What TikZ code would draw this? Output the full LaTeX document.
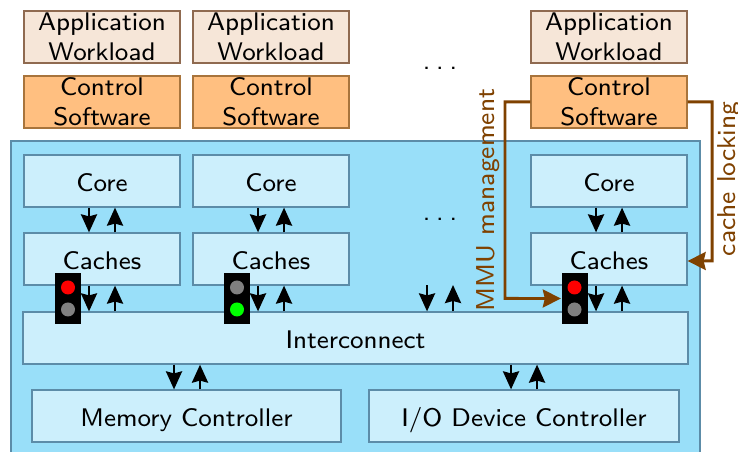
\documentclass[tikz,border=0pt]{standalone}
\usepackage{tikz}
\usepackage{xcolor}
\usetikzlibrary{arrows.meta}
\renewcommand{\familydefault}{\sfdefault}
\definecolor{appfill}{HTML}{F6E6D8}
\definecolor{appline}{HTML}{8F6A50}
\definecolor{ctrlfill}{HTML}{FFBF80}
\definecolor{ctrlline}{HTML}{A8743C}
\definecolor{socfill}{HTML}{99DFF9}
\definecolor{partfill}{HTML}{CCEFFC}
\definecolor{partline}{HTML}{5C8CA8}
\definecolor{lockbrown}{HTML}{7F4100}
\tikzset{
  appbox/.style={draw=appline,fill=appfill,line width=0.35pt,minimum width=1.56cm,minimum height=0.52cm,inner sep=0pt,align=center,font=\fontsize{7.25}{8.4}\selectfont},
  ctrlbox/.style={appbox,draw=ctrlline,fill=ctrlfill},
  partbox/.style={appbox,draw=partline,fill=partfill,text height=7.4pt,text depth=1.5pt},
  lampbox/.style={fill=black,minimum width=0.26cm,minimum height=0.51cm,inner sep=0pt},
  lamp/.style={circle,minimum size=0.14cm,inner sep=0pt},
  bus/.style={-{Stealth[length=0.18cm,width=0.16cm,inset=0.02cm]},line width=0.75pt,black},
  ctrlarrow/.style={-{Stealth[length=0.18cm,width=0.18cm,inset=0.02cm]},line width=0.85pt,lockbrown},
  ctrltext/.style={text=lockbrown,rotate=90,inner sep=0pt,font=\fontsize{7.35}{8.4}\selectfont},
  dotstext/.style={inner sep=0pt,font=\fontsize{7.25}{8.4}\selectfont}
}
\begin{document}
\begin{tikzpicture}[scale=0.1]
\useasboundingbox (0,0) rectangle (73.8,-45.2);
\begin{scope}
\clip (0,0) rectangle (73.8,-45.2);
\node [draw=partline,fill=socfill,line width=0.35pt,minimum width=6.89cm,minimum height=3.31cm,inner sep=0pt] (soc) at (35.55,-30.65) {};
\end{scope}
% software on top
\node [appbox] (app1) at (10.2,-3.7) {Application\\Workload};
\node [appbox] (app2) at (27.1,-3.7) {Application\\Workload};
\node [appbox] (app3) at (60.9,-3.7) {Application\\Workload};
\node [ctrlbox] (ctrl1) at (10.2,-10.2) {Control\\Software};
\node [ctrlbox] (ctrl2) at (27.1,-10.2) {Control\\Software};
\node [ctrlbox] (ctrl3) at (60.9,-10.2) {Control\\Software};
\node [dotstext] (dotsa) at (44,-6.8) {.\kern 0.23em.\kern 0.23em.};
% cores and caches
\node [partbox] (core1) at (10.2,-18.1) {Core};
\node [partbox] (core2) at (27.1,-18.1) {Core};
\node [partbox] (core3) at (60.9,-18.1) {Core};
\node [dotstext] (dotsb) at (44,-21.9) {.\kern 0.23em.\kern 0.23em.};
\node [partbox] (cache1) at (10.2,-25.9) {Caches};
\node [partbox] (cache2) at (27.1,-25.9) {Caches};
\node [partbox] (cache3) at (60.9,-25.9) {Caches};
\node [partbox,minimum width=6.65cm] (inter) at (35.55,-33.8) {Interconnect};
\node [partbox,minimum width=3.09cm] (memctl) at (18.65,-41.6) {Memory Controller};
\node [partbox,minimum width=3.1cm] (ioctl) at (52.4,-41.6) {I/O Device Controller};
% buses
\draw [bus] ([xshift=-1.3cm]core1.south) -- ([xshift=-1.3cm]cache1.north);
\draw [bus] ([xshift=1.3cm]cache1.north) -- ([xshift=1.3cm]core1.south);
\draw [bus] ([xshift=-1.3cm]core2.south) -- ([xshift=-1.3cm]cache2.north);
\draw [bus] ([xshift=1.3cm]cache2.north) -- ([xshift=1.3cm]core2.south);
\draw [bus] ([xshift=-1.3cm]core3.south) -- ([xshift=-1.3cm]cache3.north);
\draw [bus] ([xshift=1.3cm]cache3.north) -- ([xshift=1.3cm]core3.south);
\draw [bus] ([xshift=-1.3cm]cache1.south) -- ([xshift=-1.3cm]cache1.south |- inter.north);
\draw [bus] ([xshift=1.3cm]cache1.south |- inter.north) -- ([xshift=1.3cm]cache1.south);
\draw [bus] ([xshift=-1.3cm]cache2.south) -- ([xshift=-1.3cm]cache2.south |- inter.north);
\draw [bus] ([xshift=1.3cm]cache2.south |- inter.north) -- ([xshift=1.3cm]cache2.south);
\draw [bus] ([xshift=-1.3cm]cache3.south) -- ([xshift=-1.3cm]cache3.south |- inter.north);
\draw [bus] ([xshift=1.3cm]cache3.south |- inter.north) -- ([xshift=1.3cm]cache3.south);
\coordinate (freea) at (42.7,-28.5);
\coordinate (freeb) at (45.3,-28.5);
\draw [bus] (freea) -- (freea |- inter.north);
\draw [bus] (freeb |- inter.north) -- (freeb);
\draw [bus] ([xshift=-1.25cm]memctl.north |- inter.south) -- ([xshift=-1.25cm]memctl.north);
\draw [bus] ([xshift=1.35cm]memctl.north) -- ([xshift=1.35cm]memctl.north |- inter.south);
\draw [bus] ([xshift=-1.3cm]ioctl.north |- inter.south) -- ([xshift=-1.3cm]ioctl.north);
\draw [bus] ([xshift=1.3cm]ioctl.north) -- ([xshift=1.3cm]ioctl.north |- inter.south);
% traffic lights
\node [lampbox] (light1) at (6.8,-29.85) {};
\node [lamp,fill=red] (red1) at (6.8,-28.75) {};
\node [lamp,fill=gray] (green1) at (6.8,-30.95) {};
\node [lampbox] (light2) at (23.7,-29.85) {};
\node [lamp,fill=gray] (red2) at (23.7,-28.75) {};
\node [lamp,fill=green] (green2) at (23.7,-30.95) {};
\node [lampbox] (light3) at (57.45,-29.85) {};
\node [lamp,fill=red] (red3) at (57.45,-28.75) {};
\node [lamp,fill=gray] (green3) at (57.45,-30.95) {};
% control paths
\draw [ctrlarrow] (ctrl3.west) -- (50.5,-10.2) -- (50.5,-29.85) -- (light3.west);
\draw [ctrlarrow] (ctrl3.east) -- (71.2,-10.2) -- (71.2,-26.1) -- ([yshift=-0.2cm]cache3.east);
\node [ctrltext] (mmulabel) at (48.8,-20) {MMU management};
\node [ctrltext] (locklabel) at (72.9,-17.9) {cache locking};
\end{tikzpicture}
\end{document}
